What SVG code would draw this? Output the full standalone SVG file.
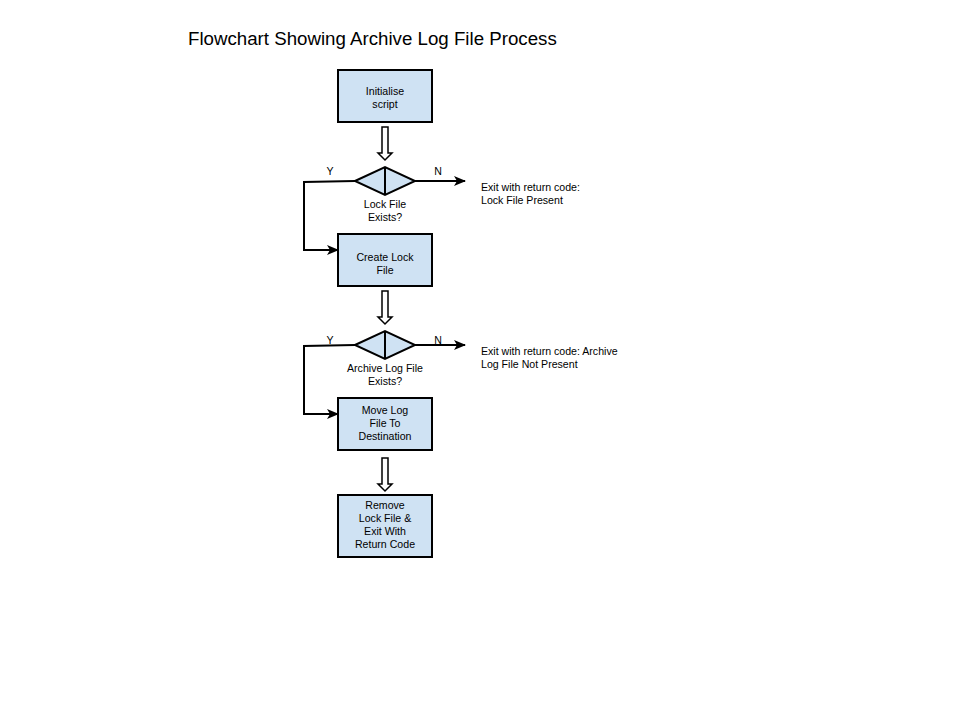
<svg xmlns="http://www.w3.org/2000/svg" width="960" height="720" viewBox="0 0 960 720">
<defs>
<style>
.box{fill:#cfe2f3;stroke:#000;stroke-width:2}
.dia{fill:#cfe2f3;stroke:#000;stroke-width:2}
.t{font-family:"Liberation Sans",Arial,sans-serif;font-size:10.6px;fill:#000}
.c{text-anchor:middle}
.line{fill:none;stroke:#000;stroke-width:2}
.hol{fill:#fff;stroke:#000;stroke-width:1.5}
</style>
<marker id="ah" markerWidth="12" markerHeight="10" refX="11" refY="5" orient="auto" markerUnits="userSpaceOnUse">
<path d="M0,0 L12,5 L0,10 L3,5 Z" fill="#000"/>
</marker>
</defs>
<rect width="960" height="720" fill="#fff"/>
<text x="188" y="45" style="font-family:'Liberation Sans',Arial,sans-serif;font-size:18.7px;fill:#000">Flowchart Showing Archive Log File Process</text>

<g id="n1"><rect class="box" x="338" y="70" width="94" height="52"/>
<text class="t c" x="385" y="95">Initialise</text><text class="t c" x="385" y="108">script</text></g>

<g id="d1"><path class="dia" d="M355,181 L385,167 L415,181 L385,195 Z"/><line x1="385" y1="167" x2="385" y2="195" stroke="#000" stroke-width="2"/>
<text class="t c" x="385" y="208">Lock File</text><text class="t c" x="385" y="221">Exists?</text></g>

<g id="n2"><rect class="box" x="338" y="234" width="94" height="52"/>
<text class="t c" x="385" y="261">Create Lock</text><text class="t c" x="385" y="274">File</text></g>

<g id="d2"><path class="dia" d="M355,345 L385,331 L415,345 L385,359 Z"/><line x1="385" y1="331" x2="385" y2="359" stroke="#000" stroke-width="2"/>
<text class="t c" x="385" y="372">Archive Log File</text><text class="t c" x="385" y="385">Exists?</text></g>

<g id="n3"><rect class="box" x="338" y="398" width="94" height="52"/>
<text class="t c" x="385" y="414">Move Log</text><text class="t c" x="385" y="427">File To</text><text class="t c" x="385" y="440">Destination</text></g>

<g id="n4"><rect class="box" x="338" y="495" width="94" height="62"/>
<text class="t c" x="385" y="509">Remove</text><text class="t c" x="385" y="522">Lock File &amp;</text><text class="t c" x="385" y="535">Exit With</text><text class="t c" x="385" y="548">Return Code</text></g>

<g id="e1"><text class="t" x="481" y="191">Exit with return code:</text><text class="t" x="481" y="204">Lock File Present</text></g>
<g id="e2"><text class="t" x="481" y="355">Exit with return code: Archive</text><text class="t" x="481" y="368">Log File Not Present</text></g>

<g id="connectors">
<path class="hol" d="M382,127 L388,127 L388,153 L392,153 L385,160 L378,153 L382,153 Z"/>
<path class="hol" d="M382,291 L388,291 L388,317 L392,317 L385,324 L378,317 L382,317 Z"/>
<path class="hol" d="M382,458 L388,458 L388,484 L392,484 L385,491 L378,484 L382,484 Z"/>
<path class="line" d="M355,181 L304,182 L304,250 L338,250" marker-end="url(#ah)"/>
<path class="line" d="M355,345 L304,346 L304,414 L338,414" marker-end="url(#ah)"/>
<path class="line" d="M415,181 L465,181" marker-end="url(#ah)"/>
<path class="line" d="M415,345 L465,345" marker-end="url(#ah)"/>
<text class="t c" x="330" y="175">Y</text>
<text class="t c" x="438" y="175">N</text>
<text class="t c" x="330" y="344">Y</text>
<text class="t c" x="438" y="344">N</text>
</g>
</svg>
